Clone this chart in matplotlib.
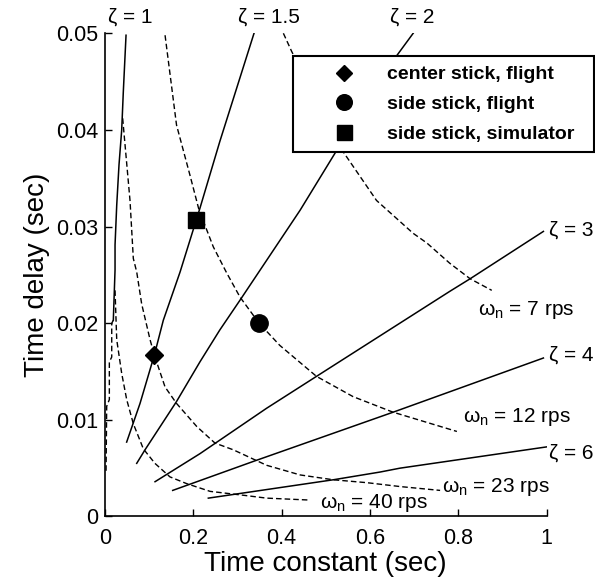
import matplotlib
matplotlib.use("Agg")
import matplotlib.pyplot as plt

plt.rcParams['font.family'] = ['Liberation Sans', 'DejaVu Sans']
plt.rcParams['mathtext.fontset'] = 'custom'
plt.rcParams['mathtext.rm'] = 'Liberation Sans'
plt.rcParams['mathtext.it'] = 'Liberation Sans'

# constant damping lines (time constant, time delay)
zeta1_T = [0.0188, 0.0227, 0.0227, 0.0265, 0.0317, 0.0378, 0.0414, 0.0476]
zeta1_tau = [0.0203, 0.0255, 0.0281, 0.0322, 0.0364, 0.0400, 0.0439, 0.0498]
zeta1_low_T = [0.0188, 0.0152, 0.0152, 0.0098, 0.0098, 0.0038, 0.0023]
zeta1_low_tau = [0.0203, 0.0200, 0.0165, 0.0160, 0.0121, 0.0114, 0.0045]
zeta15_T = [0.049, 0.0793, 0.1117, 0.132, 0.170, 0.215, 0.260, 0.3375]
zeta15_tau = [0.0077, 0.0117, 0.0167, 0.0203, 0.0253, 0.0319, 0.0388, 0.0500]
zeta2_T = [0.0718, 0.0906, 0.162, 0.215, 0.260, 0.306, 0.442, 0.521, 0.661, 0.698]
zeta2_tau = [0.0055, 0.0069, 0.0119, 0.0160, 0.0193, 0.0224, 0.0317, 0.0376, 0.0477, 0.0500]
zeta3_T = [0.1133, 0.215, 0.366, 0.479, 0.781, 0.827, 0.993]
zeta3_tau = [0.0036, 0.0065, 0.0112, 0.0145, 0.0233, 0.0246, 0.0295]
zeta4_T = [0.1533, 0.336, 0.653, 0.993]
zeta4_tau = [0.0027, 0.0057, 0.0108, 0.0164]
zeta6_T = [0.234, 0.517, 0.623, 0.668, 1.0]
zeta6_tau = [0.0019, 0.0038, 0.0046, 0.0050, 0.0072]

# constant natural frequency lines
wn7_T = [0.404, 0.423, 0.540, 0.615, 0.698, 0.729, 0.781, 0.827, 0.876]
wn7_tau = [0.0500, 0.0481, 0.0377, 0.0327, 0.0293, 0.0283, 0.0262, 0.0246, 0.0234]
wn12_T = [0.136, 0.162, 0.1925, 0.213, 0.2453, 0.2756, 0.3058, 0.349, 0.396, 0.479, 0.562, 0.652, 0.797]
wn12_tau = [0.0498, 0.0405, 0.0353, 0.0317, 0.0279, 0.0252, 0.0227, 0.0200, 0.0177, 0.0145, 0.0124, 0.0108, 0.0088]
wn23_T = [0.040, 0.0566, 0.0641, 0.0718, 0.083, 0.102, 0.1117, 0.136, 0.162, 0.208, 0.249, 0.2906,
          0.366, 0.442, 0.517, 0.593, 0.668, 0.759]
wn23_tau = [0.0412, 0.0327, 0.0267, 0.0253, 0.0220, 0.0183, 0.0167, 0.0134, 0.0117, 0.0093, 0.0076, 0.0069,
            0.0053, 0.0043, 0.0038, 0.0035, 0.0031, 0.0027]
wn40_T = [0.0227, 0.0265, 0.0378, 0.0491, 0.0641, 0.0868, 0.113, 0.147, 0.185, 0.238, 0.313, 0.366, 0.464]
wn40_tau = [0.0234, 0.0183, 0.0148, 0.0121, 0.0096, 0.0070, 0.0055, 0.0041, 0.0034, 0.0026, 0.0022, 0.0019, 0.0017]

# test points
pts_T = [0.1117, 0.349, 0.206]
pts_tau = [0.0167, 0.0200, 0.0307]
pts_marker = ['D', 'o', 's']
pts_size = [9, 12.5, 12]
pts_label = ['center stick, flight', 'side stick, flight', 'side stick, simulator']

fig = plt.figure(figsize=(5.95, 5.85), dpi=100)
ax = fig.add_axes([0.1765, 0.1171, 0.742, 0.826])

solid = dict(color='black', lw=1.1, solid_joinstyle='round')
dashed = dict(color='black', lw=1.0, dashes=(4, 2.2))

for T, tau in [(zeta1_T, zeta1_tau), (zeta15_T, zeta15_tau), (zeta2_T, zeta2_tau),
               (zeta3_T, zeta3_tau), (zeta4_T, zeta4_tau), (zeta6_T, zeta6_tau)]:
    ax.plot(T, tau, **solid)

for T, tau in [(zeta1_low_T, zeta1_low_tau), (wn7_T, wn7_tau), (wn12_T, wn12_tau),
               (wn23_T, wn23_tau), (wn40_T, wn40_tau)]:
    ax.plot(T, tau, **dashed)

for T, tau, m, s, lab in zip(pts_T, pts_tau, pts_marker, pts_size, pts_label):
    ax.plot(T, tau, marker=m, ms=s, color='black', ls='none', label=lab, zorder=5)

ax.set_xlim(0, 1)
ax.set_ylim(0, 0.05)
ax.set_xticks([0, 0.2, 0.4, 0.6, 0.8, 1])
ax.set_xticklabels(['0', '0.2', '0.4', '0.6', '0.8', '1'])
ax.set_yticks([0, 0.01, 0.02, 0.03, 0.04, 0.05])
ax.set_yticklabels(['0', '0.01', '0.02', '0.03', '0.04', '0.05'])
ax.tick_params(direction='in', length=5, width=1, labelsize=15.5)
ax.tick_params(axis='x', pad=8)
ax.tick_params(axis='y', pad=5)
ax.spines['top'].set_visible(False)
ax.spines['right'].set_visible(False)
for s in ['left', 'bottom']:
    ax.spines[s].set_linewidth(1.2)

ax.set_xlabel('Time constant (sec)', fontsize=20, labelpad=2)
ax.set_ylabel('Time delay (sec)', fontsize=20, labelpad=4)

# damping labels
lab_kw = dict(fontsize=15, clip_on=False)
ax.text(0.007, 0.0517, '\u03b6 = 1', ha='left', va='center', **lab_kw)
ax.text(0.301, 0.0517, '\u03b6 = 1.5', ha='left', va='center', **lab_kw)
ax.text(0.645, 0.0517, '\u03b6 = 2', ha='left', va='center', **lab_kw)
ax.text(1.005, 0.0296, '\u03b6 = 3', ha='left', va='center', **lab_kw)
ax.text(1.005, 0.0167, '\u03b6 = 4', ha='left', va='center', **lab_kw)
ax.text(1.005, 0.0066, '\u03b6 = 6', ha='left', va='center', **lab_kw)

# frequency labels
ax.text(0.8455, 0.0208, r'$\omega_\mathrm{n}$ = 7 rps', ha='left', va='baseline', **lab_kw)
ax.text(0.810, 0.0098, r'$\omega_\mathrm{n}$ = 12 rps', ha='left', va='baseline', **lab_kw)
ax.text(0.7626, 0.00256, r'$\omega_\mathrm{n}$ = 23 rps', ha='left', va='baseline', **lab_kw)
ax.text(0.487, 0.0009, r'$\omega_\mathrm{n}$ = 40 rps', ha='left', va='baseline', **lab_kw)

leg = ax.legend(loc='upper left', bbox_to_anchor=(0.425, 0.755, 0.683, 0.198), mode='expand',
                borderaxespad=0, frameon=True, fancybox=False, edgecolor='black', framealpha=1,
                prop=dict(weight='bold', size=14), handlelength=4.26, handletextpad=0.1,
                labelspacing=0.62, borderpad=0.5, numpoints=1)
leg.get_frame().set_linewidth(1.5)
for h in leg.legend_handles:
    h.set_markersize(h.get_markersize() * 0.9)

fig.savefig('out.png', dpi=100)
